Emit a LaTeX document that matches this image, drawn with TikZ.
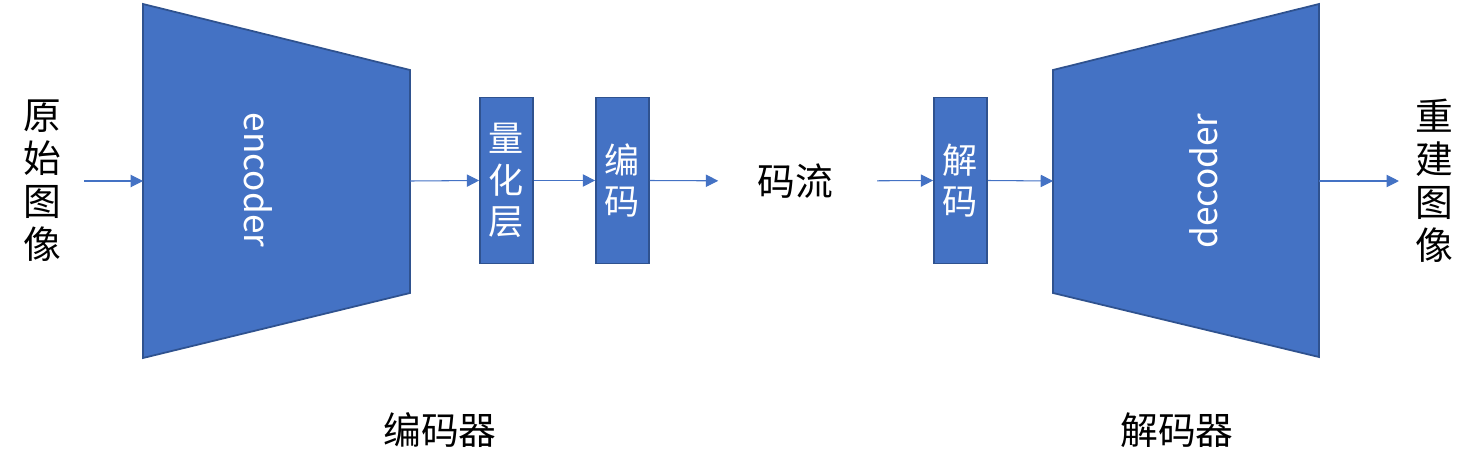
\documentclass[tikz,border=0pt]{standalone}
\usepackage{fontspec}
\setmainfont{Noto Sans CJK SC}
\usepackage{tikz}
\usetikzlibrary{arrows.meta,calc,positioning}
\definecolor{boxblue}{HTML}{4472C4}
\definecolor{edgeblue}{HTML}{2F528F}

\begin{document}
\begin{tikzpicture}[x=0.02cm, y=-0.02cm,
    blk/.style={draw=edgeblue, fill=boxblue, line width=1pt},
    stagebox/.style={blk, minimum width=1.06cm, minimum height=3.32cm, inner sep=0pt, text=white, font=\fontsize{20}{23.5}\selectfont, align=center},
    arr/.style={draw=boxblue, line width=0.6pt, -{Triangle[length=7pt,width=7pt]}},
    txt/.style={inner sep=0pt, font=\fontsize{21.5}{24.5}\selectfont, align=center}]
        \useasboundingbox (0,0) rectangle (1475,474);
        % Draw the encoder trapezoid
        \filldraw[blk] (143,4) -- (410,70) -- (410,293) -- (143,358) -- cycle;
        \coordinate (encIn) at (143,181);
        \coordinate (encOut) at (410,181);
        \node[rotate=-90, text=white, font=\fontsize{20}{24}\selectfont] (encTxt) at (258,180) {encoder};
        % Draw the decoder trapezoid
        \filldraw[blk] (1053,70) -- (1319,4) -- (1319,357) -- (1053,293) -- cycle;
        \coordinate (decIn) at (1053,181);
        \coordinate (decOut) at (1319,181);
        \node[rotate=90, text=white, font=\fontsize{20}{24}\selectfont] (decTxt) at (1204,181) {decoder};
        % Draw the stage boxes
        \foreach \name/\x/\txt in {quantBox/506.5/量\\化\\层, codeBox/622.5/编\\码, decodeBox/960.5/解\\码} {
            \node[stagebox] (\name) at (\x,180.5) {\txt};
          }
        % Draw the texts
        \node[txt] (src) at (42,181) {原\\始\\图\\像};
        \node[txt] (rec) at (1434,181) {重\\建\\图\\像};
        \node[txt] (stream) at (795,181) {码流};
        \node[txt] (encName) at (440,430) {编码器};
        \node[txt] (decName) at (1177,430) {解码器};
        % Draw connecting arrows
        \draw[arr, shorten <=13pt] (src.east) -- (encIn);
        \draw[arr] (encOut) -- (quantBox.west);
        \draw[arr] (quantBox.east) -- (codeBox.west);
        \draw[arr, shorten >=22pt] (codeBox.east) -- (stream.west);
        \draw[arr, shorten <=25pt] (stream.east) -- (decodeBox.west);
        \draw[arr] (decodeBox.east) -- (decIn);
        \draw[arr, shorten >=9pt] (decOut) -- (rec.west);
      \end{tikzpicture}
\end{document}
